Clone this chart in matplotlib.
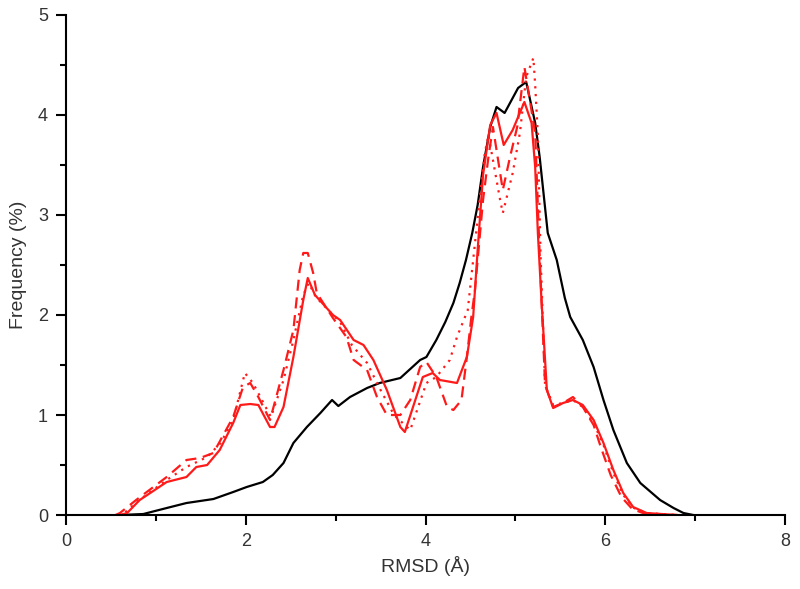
import matplotlib.pyplot as plt
from matplotlib.ticker import MultipleLocator

plt.rcParams['font.family'] = ['Liberation Sans', 'DejaVu Sans']

# black curve
x_black = [0.6, 0.86, 1.12, 1.34, 1.64, 1.86, 2.01, 2.19, 2.30, 2.42, 2.53, 2.68, 2.83, 2.96,
           3.03, 3.16, 3.35, 3.49, 3.72, 3.94, 4.01, 4.12, 4.22, 4.31, 4.38, 4.45, 4.52, 4.58,
           4.64, 4.72, 4.79, 4.88, 5.03, 5.12, 5.22, 5.27, 5.36, 5.46, 5.55, 5.61, 5.75, 5.87,
           5.98, 6.09, 6.24, 6.39, 6.61, 6.76, 6.87, 6.98]
y_black = [0.0, 0.01, 0.07, 0.12, 0.16, 0.23, 0.28, 0.33, 0.40, 0.52, 0.72, 0.88, 1.02, 1.15,
           1.09, 1.18, 1.27, 1.32, 1.37, 1.55, 1.58, 1.75, 1.93, 2.12, 2.32, 2.55, 2.82, 3.1,
           3.48, 3.88, 4.08, 4.02, 4.27, 4.33, 3.92, 3.58, 2.82, 2.55, 2.17, 1.98, 1.75, 1.48,
           1.15, 0.85, 0.52, 0.32, 0.15, 0.07, 0.02, 0.0]

# red solid
x_solid = [0.6, 0.68, 0.82, 1.12, 1.34, 1.45, 1.57, 1.71, 1.86, 1.94, 2.05, 2.14, 2.27, 2.32,
           2.42, 2.53, 2.64, 2.69, 2.77, 2.97, 3.05, 3.2, 3.31, 3.42, 3.57, 3.72, 3.77, 3.97,
           4.08, 4.16, 4.35, 4.46, 4.53, 4.58, 4.64, 4.72, 4.79, 4.87, 4.97, 5.10, 5.18, 5.22,
           5.25, 5.29, 5.35, 5.42, 5.53, 5.64, 5.75, 5.87, 5.98, 6.09, 6.2, 6.31, 6.46, 6.8]
y_solid = [0.0, 0.02, 0.15, 0.33, 0.38, 0.48, 0.50, 0.65, 0.92, 1.10, 1.11, 1.10, 0.88, 0.88,
           1.08, 1.58, 2.15, 2.37, 2.2, 2.0, 1.95, 1.75, 1.70, 1.55, 1.25, 0.88, 0.83, 1.38,
           1.42, 1.35, 1.32, 1.58, 1.98, 2.65, 3.4, 3.9, 4.02, 3.7, 3.85, 4.13, 3.92, 3.48,
           2.82, 2.15, 1.25, 1.07, 1.12, 1.15, 1.10, 0.95, 0.72, 0.45, 0.22, 0.08, 0.02, 0.0]

# red dashed
x_dash = [0.55, 0.6, 0.78, 1.12, 1.34, 1.49, 1.64, 1.86, 1.97, 2.05, 2.14, 2.23, 2.27, 2.42,
          2.53, 2.6, 2.64, 2.69, 2.75, 2.79, 2.97, 3.12, 3.2, 3.35, 3.46, 3.57, 3.72, 3.83,
          3.94, 4.01, 4.12, 4.24, 4.31, 4.4, 4.46, 4.51, 4.55, 4.64, 4.7, 4.75, 4.83, 4.86,
          4.94, 5.02, 5.1, 5.16, 5.22, 5.27, 5.33, 5.42, 5.53, 5.64, 5.75, 5.87, 5.95, 6.06,
          6.18, 6.3, 6.45, 6.8]
y_dash = [0.0, 0.02, 0.15, 0.38, 0.55, 0.57, 0.62, 0.98, 1.28, 1.32, 1.18, 1.02, 0.95, 1.45,
          1.85, 2.45, 2.62, 2.62, 2.42, 2.22, 1.97, 1.78, 1.55, 1.45, 1.18, 1.0, 1.0, 1.15,
          1.48, 1.53, 1.38, 1.08, 1.05, 1.15, 1.58, 1.98, 2.25, 3.15, 3.58, 3.88, 3.42, 3.25,
          3.58, 3.88, 4.48, 4.15, 3.82, 2.6, 1.3, 1.08, 1.12, 1.18, 1.08, 0.9, 0.68, 0.4,
          0.18, 0.06, 0.01, 0.0]

# red dotted
x_dot = [0.58, 0.65, 0.8, 1.12, 1.34, 1.57, 1.72, 1.86, 1.99, 2.08, 2.18, 2.28, 2.42, 2.53,
         2.64, 2.7, 2.78, 2.97, 3.05, 3.18, 3.35, 3.5, 3.65, 3.83, 4.01, 4.12, 4.27, 4.35,
         4.47, 4.56, 4.62, 4.66, 4.7, 4.75, 4.83, 4.86, 4.97, 5.05, 5.12, 5.2, 5.22, 5.25,
         5.28, 5.33, 5.42, 5.53, 5.64, 5.75, 5.87, 5.98, 6.09, 6.2, 6.32, 6.46, 6.8]
y_dot = [0.0, 0.02, 0.14, 0.35, 0.48, 0.58, 0.72, 0.95, 1.42, 1.32, 1.15, 0.98, 1.35, 1.75,
         2.2, 2.32, 2.18, 2.0, 1.93, 1.70, 1.52, 1.25, 1.0, 0.85, 1.32, 1.38, 1.55, 1.78,
         2.05, 2.8, 3.3, 3.62, 3.8, 3.55, 3.15, 3.02, 3.42, 3.82, 4.38, 4.57, 4.3, 3.8,
         2.6, 1.3, 1.1, 1.12, 1.15, 1.08, 0.92, 0.7, 0.42, 0.2, 0.07, 0.02, 0.0]

fig = plt.figure(figsize=(8, 5.89), dpi=100)
ax = fig.add_axes([0.0825, 0.1256, 0.8988, 0.849])

ax.plot(x_black, y_black, color='black', lw=1.6)
ax.plot(x_solid, y_solid, color='#ff1a1a', lw=1.6)
ax.plot(x_dash, y_dash, color='#ff1a1a', lw=1.6, ls=(0, (5, 3)))
ax.plot(x_dot, y_dot, color='#ff1a1a', lw=1.6, ls=(0, (1, 2.5)))

ax.set_xlim(0, 8)
ax.set_ylim(0, 5)
ax.xaxis.set_major_locator(MultipleLocator(2))
ax.xaxis.set_minor_locator(MultipleLocator(1))
ax.yaxis.set_major_locator(MultipleLocator(1))
ax.yaxis.set_minor_locator(MultipleLocator(0.5))

for s in ['top', 'right']:
    ax.spines[s].set_visible(False)
for s in ['left', 'bottom']:
    ax.spines[s].set_linewidth(1.5)

ax.tick_params(which='major', length=7, width=1.5, pad=6, labelsize=13, labelcolor='#333333')
ax.tick_params(which='minor', length=4.5, width=1.5)

ax.set_xlabel('RMSD (Å)', fontsize=14, color='#333333', labelpad=4)
ax.set_ylabel('Frequency (%)', fontsize=14, color='#333333', labelpad=8)

fig.savefig('out.png', dpi=100)
